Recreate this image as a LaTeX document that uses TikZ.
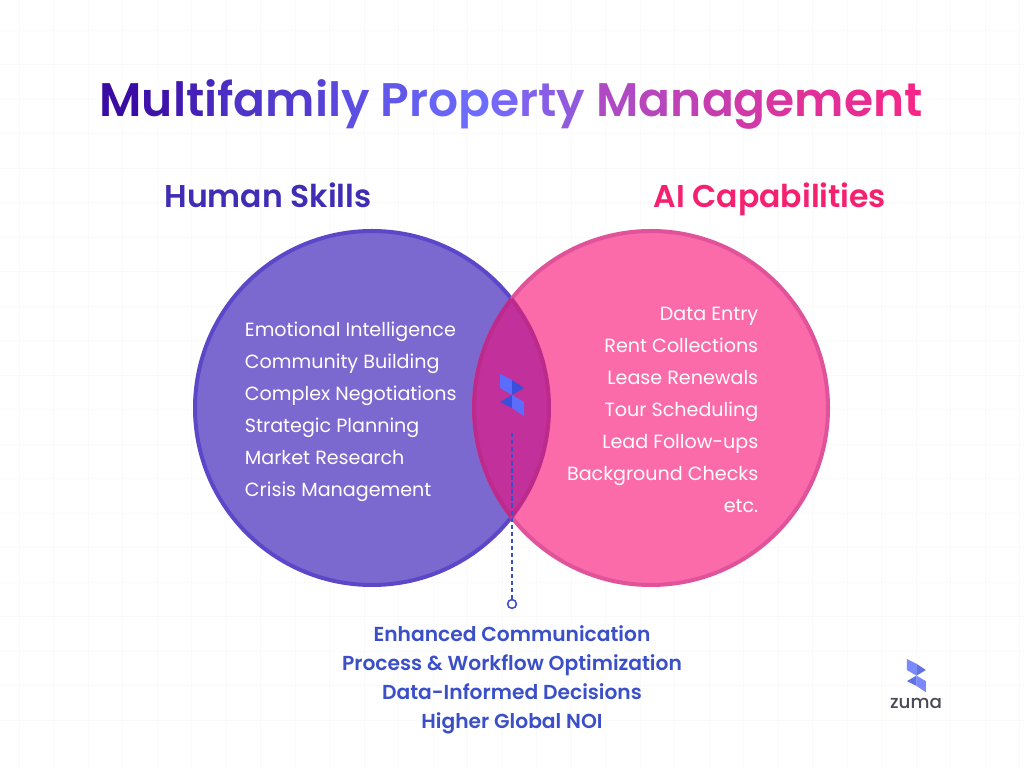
\documentclass[tikz,border=0pt]{standalone}
\usepackage{fontspec}
\setmainfont{Poppins}
\newfontfamily\poppinssemi{Poppins SemiBold}
\newfontfamily\poppinsmed{Poppins Medium}
\usepackage{xcolor}
\usetikzlibrary{positioning}
\definecolor{tlA}{HTML}{3A0CA3}
\definecolor{tlB}{HTML}{6C6CFF}
\definecolor{tlC}{HTML}{F72585}
\definecolor{humanBlue}{HTML}{3F2DB5}
\definecolor{aiPink}{HTML}{F5206F}
\definecolor{humanFill}{HTML}{7C69CF}
\definecolor{humanLine}{HTML}{5B47C8}
\definecolor{aiFill}{HTML}{FB6BA9}
\definecolor{aiLine}{HTML}{E0529A}
\definecolor{lensFill}{HTML}{C1309B}
\definecolor{lensLine}{HTML}{BC2A8C}
\definecolor{sharedBlue}{HTML}{3A4FC8}
\definecolor{zumaLight}{HTML}{5B6CFF}
\definecolor{zumaDark}{HTML}{3A4FDC}
\definecolor{zumaGrey}{HTML}{4A4A55}
\newcommand{\ga}[2]{\textcolor{tlB!#1!tlA}{#2}}
\newcommand{\gb}[2]{\textcolor{tlC!#1!tlB}{#2}}
\tikzset{
  venn/.style={circle, minimum size=8.85cm, line width=1mm, inner sep=0pt, outer sep=0pt},
  heading/.style={anchor=base, font=\fontsize{22.4}{26}\selectfont\poppinssemi},
  skills/.style={text=white, font=\fontsize{13.6}{22.75}\selectfont},
  shared/.style={text=sharedBlue, align=center, font=\fontsize{14.4}{20.6}\selectfont\poppinssemi},
  gridline/.style={black!2, line width=0.3pt},
  zumamark/.pic={
    \fill[zumaLight] (-0.3,0.525) -- (0,0.375) -- (0,0) -- (-0.3,0.175) -- cycle;
    \fill[zumaDark] (0,0.375) -- (0.3,0.175) -- (0,0) -- cycle;
    \fill[zumaDark] (-0.3,-0.175) -- (0,0) -- (0,-0.325) -- cycle;
    \fill[zumaLight] (0,0) -- (0.3,-0.175) -- (0.3,-0.525) -- (0,-0.325) -- cycle;
  },
}
\begin{document}
\begin{tikzpicture}
\useasboundingbox (0,0) rectangle (25.6,19.2);
\fill[white] (0,0) rectangle (25.6,19.2);
\foreach \i in {0,...,29} {
  \draw[gridline] ({0.475+\i*0.8625},0) -- ({0.475+\i*0.8625},19.2);
}
\foreach \j in {0,...,22} {
  \draw[gridline] (0,{1.2+\j*0.8625}) -- (25.6,{1.2+\j*0.8625});
}

\node[font=\fontsize{33.5}{44}\selectfont\poppinssemi] (title) at (12.78,16.6) {\ga{0}{M}\ga{7}{u}\ga{14}{l}\ga{21}{t}\ga{28}{i}\ga{35}{f}\ga{42}{a}\ga{49}{m}\ga{56}{i}\ga{63}{l}\ga{70}{y} \ga{78}{P}\ga{85}{r}\ga{92}{o}\ga{100}{p}\gb{7}{e}\gb{14}{r}\gb{20}{t}\gb{26}{y} \gb{48}{M}\gb{54}{a}\gb{60}{n}\gb{66}{a}\gb{72}{g}\gb{78}{e}\gb{84}{m}\gb{90}{e}\gb{95}{n}\gb{100}{t}};
\node[heading, text=humanBlue] (humanhead) at (6.7,14) {Human Skills};
\node[heading, text=aiPink] (aihead) at (19.25,14) {AI Capabilities};

\node[venn, draw=humanLine, fill=humanFill] (human) at (9.3,9) {};
\node[venn, draw=aiLine, fill=aiFill] (ai) at (16.275,9) {};
\begin{scope}
  \clip (human.center) circle (4.425);
  \node[venn, draw=lensLine, fill=lensFill] at (ai.center) {};
\end{scope}
\begin{scope}
  \clip (ai.center) circle (4.425);
  \node[venn, draw=lensLine] at (human.center) {};
\end{scope}

\node[skills, align=left, anchor=west] (humanlist) at (6.0,8.9) {Emotional Intelligence\\Community Building\\Complex Negotiations\\Strategic Planning\\Market Research\\Crisis Management};
\node[skills, align=right, anchor=east] (ailist) at (19.08,8.95) {Data Entry\\Rent Collections\\Lease Renewals\\Tour Scheduling\\Lead Follow-ups\\Background Checks\\etc.};

\pic at (12.8,9.325) {zumamark};
\coordinate (dashtop) at (12.8,8.37);
\node[circle, draw=sharedBlue, line width=1.1pt, minimum size=2.2mm, inner sep=0pt, fill=white, below=4.14cm of dashtop] (tip) {};
\draw[sharedBlue, line width=1.2pt, dash pattern=on 3pt off 2pt] (dashtop) -- (tip);

\node[shared, below=0.3cm of tip] (sharedlist) {Enhanced Communication\\Process \& Workflow Optimization\\Data-Informed Decisions\\Higher Global NOI};

\pic[scale=0.79, opacity=0.8] at (22.91,2.31) {zumamark};
\node[text=zumaGrey, font=\fontsize{13}{16}\selectfont\poppinsmed] (zuma) at (22.9,1.62) {zuma};
\end{tikzpicture}
\end{document}
